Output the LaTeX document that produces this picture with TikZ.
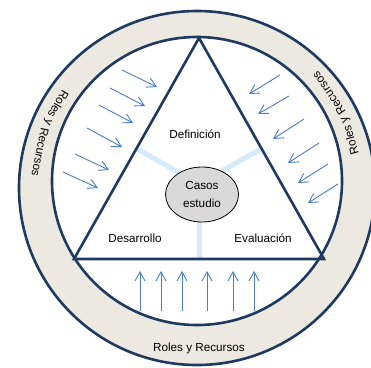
\documentclass[tikz,border=0pt]{standalone}
\usepackage{fontspec}
\setmainfont{Liberation Sans}
\usetikzlibrary{arrows.meta,calc,shapes.geometric}
\definecolor{navy}{HTML}{1F3A60}
\definecolor{ringfill}{HTML}{ECEAE0}
\definecolor{arrowblue}{HTML}{4A7DC4}
\definecolor{spokeblue}{HTML}{D5EBFA}
\definecolor{ellfill}{HTML}{D9D9D9}
\newcommand\ringfont{\fontsize{11.7}{14}\selectfont}
\begin{document}
\begin{tikzpicture}[x=1pt,y=-1pt,
  ring/.style={draw=navy, line width=2.6pt},
  tri/.style={draw=navy, line width=2.6pt, line join=miter},
  spoke/.style={draw=spokeblue, line width=5pt},
  flow/.style={draw=arrowblue, line width=0.9pt, -{Straight Barb[length=9pt,width=10pt,line width=0.9pt]}},
  lbl/.style={font=\ringfont, inner sep=0pt, anchor=base},
  word/.style={font=\ringfont, inner sep=0pt, text height=8.5pt, text depth=2.5pt},
]
\useasboundingbox (0,0) rectangle (371,367);
\clip (0,0) rectangle (371,367);
% rings
\draw[ring, fill=ringfill] (197,188) ellipse[x radius=178, y radius=177];
\draw[ring, fill=white] (197,181) ellipse[x radius=145, y radius=144];
% triangle geometry
\coordinate (A) at (199,38);
\coordinate (B) at (74,259);
\coordinate (C) at (324,259);
\coordinate (O) at (199,184);
\coordinate (T) at (197,184);
% spokes
\draw[spoke] ($(A)!0.5!(B)$) -- (O);
\draw[spoke] ($(A)!0.5!(C)$) -- (O);
\draw[spoke] ($(B)!0.5!(C)$) -- (O);
% triangle
\draw[tri] (A) -- (B) -- (C) -- cycle;
% centre
\node[draw=black, line width=0.8pt, fill=ellfill, ellipse, minimum width=73pt, minimum height=55pt,
      inner sep=0pt, align=center, font=\fontsize{11.7}{17.6}\selectfont] (casos) at (202,194.5) {Casos\\estudio};
% labels
\node[lbl] (def) at (195,138) {Definición};
\node[lbl] (des) at (135,242) {Desarrollo};
\node[lbl] (eva) at (263,242) {Evaluación};
\node[lbl] (rb) at (199,351) {Roles y Recursos};
% ring texts (word by word along the ring)
\node[word, rotate=240]   (l1) at ($(T)+(-150:161)$) {Roles};
\node[word, rotate=247.5] (l2) at ($(T)+(-157.5:161)$) {y};
\node[word, rotate=258.5] (l3) at ($(T)+(-168.5:161)$) {Recursos};
\node[word, rotate=106]   (r1) at ($(T)+(-16:161)$) {Roles};
\node[word, rotate=113.5] (r2) at ($(T)+(-23.5:161)$) {y};
\node[word, rotate=124.5] (r3) at ($(T)+(-34.5:161)$) {Recursos};
% arrows left
\foreach \sx/\sy/\ex/\ey in {122/70/157/87, 110/88/145/106, 99/105/133/123, 87/128/122/147, 75/154/109/170, 63/172/98/188}
  \draw[flow] (\sx,\sy) -- (\ex,\ey);
% arrows right
\foreach \sx/\sy/\ex/\ey in {280/75/249/94, 289/96/258/114, 304/119/273/139, 319/143/288/163, 328/164/298/183, 338/184/308/203}
  \draw[flow] (\sx,\sy) -- (\ex,\ey);
% arrows bottom
\foreach \x in {140,161,182,207,233,254}
  \draw[flow] (\x,311) -- (\x,271);
\end{tikzpicture}
\end{document}
